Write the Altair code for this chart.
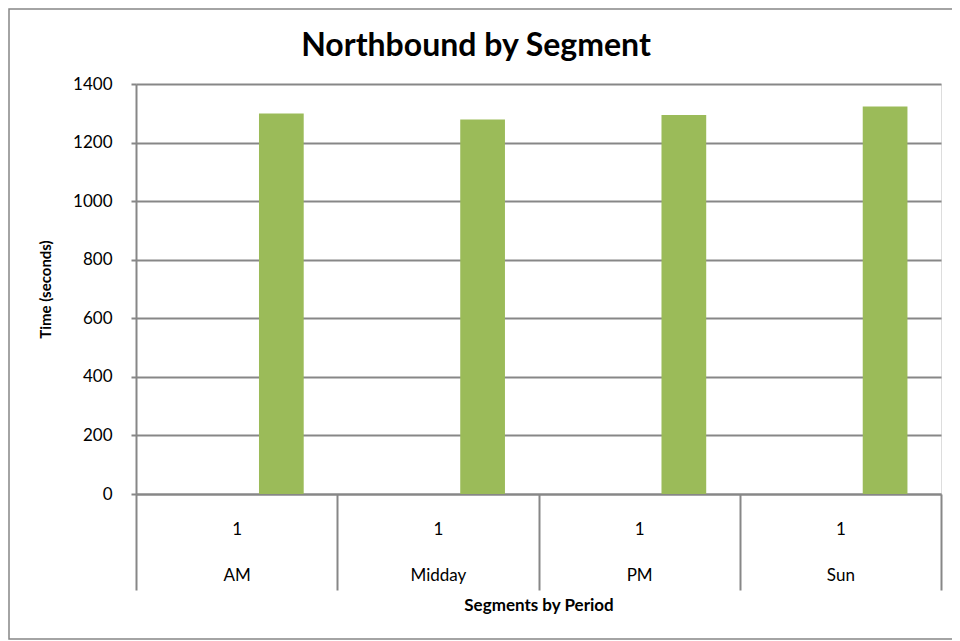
import altair as alt
import pandas as pd

# ---- data ----
periods = ["AM", "Midday", "PM", "Sun"]
segments = ["1", "1", "1", "1"]
times = [1299, 1279, 1294, 1323]
series_slots = ["Series1", "Series2", "Series3"]   # Excel clustered slots; only the 3rd holds data
series_name = "Series3"
y_ticks = [0, 200, 400, 600, 800, 1000, 1200, 1400]
chart_title = "Northbound by Segment"

df = pd.DataFrame({
    "cat": [f"{s}|{p}" for s, p in zip(segments, periods)],
    "series": [series_name] * len(periods),
    "time": times,
})

W, H = 805, 410
FONT = "Lato"
GRID = "#878787"
GREEN = "#9BBB59"

bars = alt.Chart(df).mark_bar(color=GREEN).encode(
    x=alt.X(
        "cat:N", sort=None,
        scale=alt.Scale(paddingInner=0, paddingOuter=0),
        axis=alt.Axis(
            title="Segments by Period",
            labelAngle=0,
            labelExpr="split(datum.label, '|')",
            labelLineHeight=46,
            labelFontSize=17,
            labelFont=FONT,
            labelColor="#000000",
            labelPadding=-69,
            tickBand="extent",
            tickSize=96,
            tickColor=GRID,
            tickWidth=2,
            domainColor=GRID,
            domainWidth=2,
            grid=False,
            titleFont=FONT,
            titleFontSize=17,
            titleFontWeight="bold",
            titleColor="#000000",
            titlePadding=6,
        ),
    ),
    xOffset=alt.XOffset(
        "series:N",
        scale=alt.Scale(domain=series_slots, paddingInner=0, paddingOuter=0.75),
    ),
    y=alt.Y(
        "time:Q",
        scale=alt.Scale(domain=[0, 1400], nice=False),
        axis=alt.Axis(
            title="Time (seconds)",
            values=y_ticks,
            format="d",
            labelFont=FONT,
            labelFontSize=17,
            labelColor="#000000",
            labelPadding=19,
            tickSize=5,
            tickColor=GRID,
            tickWidth=2,
            domainColor=GRID,
            domainWidth=2,
            grid=True,
            gridColor=GRID,
            gridWidth=2,
            titleFont=FONT,
            titleFontSize=15,
            titleFontWeight="bold",
            titleColor="#000000",
            titlePadding=19,
        ),
    ),
)

one = pd.DataFrame({"t": [chart_title]})

border = alt.Chart(one).mark_rect(
    fill=None, stroke=GRID, strokeWidth=1.5, clip=False
).encode(
    x=alt.value(-127), x2=alt.value(W + 40),
    y=alt.value(-75), y2=alt.value(H + 145),
)

title = alt.Chart(one).mark_text(
    font=FONT, fontSize=32, fontWeight="bold", color="#000000",
    align="center", baseline="alphabetic", clip=False,
).encode(
    text="t:N",
    x=alt.value(340), y=alt.value(-28),
)

chart = alt.layer(border, bars, title).properties(
    width=W, height=H,
    autosize=alt.AutoSizeParams(type="none"),
    padding={"left": 128, "top": 76, "right": 11, "bottom": 147},
).configure_view(stroke=None).configure(background="white")

chart.save("out.html", embed_options={"renderer": "svg", "actions": False})
